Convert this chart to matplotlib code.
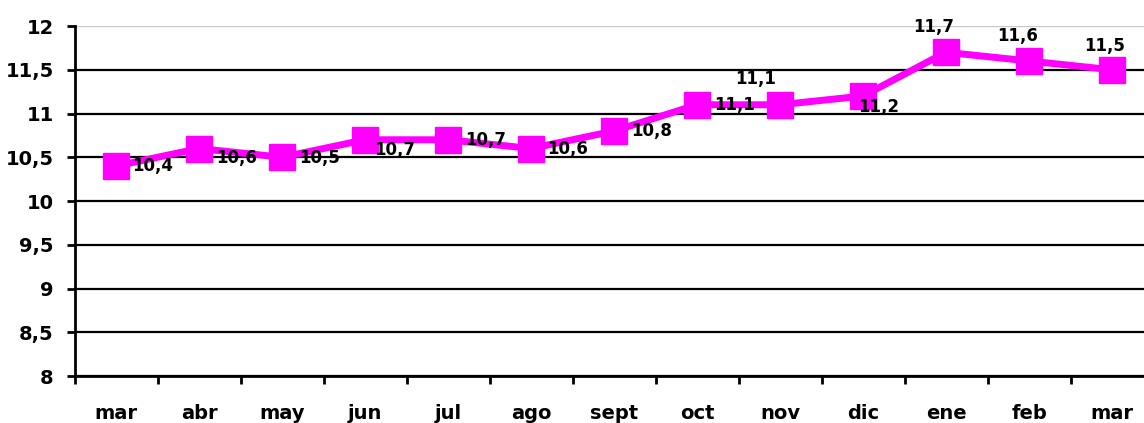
import matplotlib.pyplot as plt
import numpy as np

plt.rcParams['font.family'] = ['DejaVu Sans']
plt.rcParams['font.weight'] = 'bold'

months = ['mar', 'abr', 'may', 'jun', 'jul', 'ago', 'sept', 'oct',
          'nov', 'dic', 'ene', 'feb', 'mar']
values = [10.4, 10.6, 10.5, 10.7, 10.7, 10.6, 10.8, 11.1,
          11.1, 11.2, 11.7, 11.6, 11.5]
value_labels = ['10,4', '10,6', '10,5', '10,7', '10,7', '10,6', '10,8', '11,1',
                '11,1', '11,2', '11,7', '11,6', '11,5']
yticks = [8, 8.5, 9, 9.5, 10, 10.5, 11, 11.5, 12]
ytick_labels = ['8', '8,5', '9', '9,5', '10', '10,5', '11', '11,5', '12']

# label offsets (pixels, label centre relative to the point)
label_offsets = [(37, 0), (38, -9), (38, -1), (30, -10), (38, 0), (37, 0),
                 (38, 0), (38, 0), (-24, 26), (16, -11), (-12, 25),
                 (-11, 25), (-7, 24)]

W, H = 1144, 423
fig = plt.figure(figsize=(W / 100, H / 100), dpi=100)
ax = fig.add_axes([74.5 / W, 1 - 376 / H, (1153.5 - 74.5) / W, 350 / H])

x = np.arange(len(months))
ax.plot(x, values, color='#ff00ff', lw=5, marker='s', markersize=19,
        zorder=3, clip_on=False)

for xi, v, lab, off in zip(x, values, value_labels, label_offsets):
    ax.annotate(lab, (xi, v), xytext=off, textcoords='offset pixels',
                ha='center', va='center', fontsize=12, fontweight='bold',
                color='black', zorder=4)

ax.set_xlim(-0.5, len(months) - 0.5)
ax.set_ylim(8, 12)
ax.set_yticks(yticks)
ax.set_yticklabels(ytick_labels)
ax.set_xticks(x)
ax.set_xticklabels(months)
ax.set_xticks(np.arange(len(months) + 1) - 0.5, minor=True)

ax.tick_params(axis='y', length=6, width=2, pad=9, labelsize=14)
ax.tick_params(axis='x', which='major', length=0, pad=20, labelsize=14)
ax.tick_params(axis='x', which='minor', length=6, width=2, direction='out')

ax.grid(axis='y', color='black', lw=1.6, zorder=1)
for gl, t in zip(ax.yaxis.get_gridlines(), yticks):
    if t == 12:
        gl.set_color('#c8c8c8')
        gl.set_linewidth(1.0)

for s in ['top', 'right']:
    ax.spines[s].set_visible(False)
for s in ['left', 'bottom']:
    ax.spines[s].set_linewidth(2)

fig.savefig('out.png', dpi=100)
